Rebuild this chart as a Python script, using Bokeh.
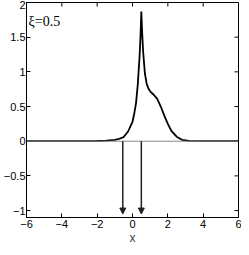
from bokeh.plotting import figure
from bokeh.models import (ColumnDataSource, Arrow, NormalHead, FixedTicker, Range1d, Span)
from bokeh.core.properties import value
from bokeh.embed import file_html
from bokeh.resources import INLINE

# curve data
curve_x = [-6, -3, -2, -1.5, -1, -0.75, -0.5, -0.25, 0, 0.1, 0.2, 0.3, 0.4, 0.45, 0.5,
           0.55, 0.6, 0.7, 0.8, 0.9, 1.0, 1.2, 1.4, 1.6, 1.8, 2.0, 2.2, 2.5, 2.8, 3.2, 4, 6]
curve_y = [0, 0, 0.003, 0.008, 0.02, 0.035, 0.06, 0.14, 0.28, 0.4, 0.55, 0.82, 1.22, 1.5, 1.87,
           1.55, 1.3, 0.98, 0.83, 0.76, 0.72, 0.67, 0.61, 0.5, 0.37, 0.25, 0.15, 0.065, 0.02, 0.004, 0, 0]

arrow_x = [-0.55, 0.5]
arrow_y0 = [0, 0]
arrow_y1 = [-1.05, -1.05]

x_ticks = [-6, -4, -2, 0, 2, 4, 6]
y_ticks = [-1, -0.5, 0, 0.5, 1, 1.5, 2]
label_text = "ξ=0.5"

X0, X1 = -6, 6
Y0, Y1 = -1.1, 2

FONT = "Liberation Sans"

p = figure(frame_width=212, frame_height=215, output_backend="svg", toolbar_location=None,
           x_range=Range1d(X0, X1), y_range=Range1d(Y0, Y1),
           min_border_left=0, min_border_right=3, min_border_top=2, min_border_bottom=0,
           x_axis_label="x")
p.grid.visible = False
p.outline_line_color = "black"
p.outline_line_width = 1
p.background_fill_color = "white"
p.border_fill_color = "white"

def fmt(v):
    return ("%g" % v).replace("-", "\u2212")

for ax in (p.xaxis[0], p.yaxis[0]):
    ax.major_tick_in = 4
    ax.major_tick_out = 0
    ax.minor_tick_in = 0
    ax.minor_tick_out = 0
    ax.axis_line_color = "black"
    ax.major_tick_line_color = "black"
    ax.major_label_text_font = FONT
    ax.major_label_text_font_size = "11px"
    ax.major_label_text_color = "black"
    ax.major_label_standoff = 2

p.yaxis[0].major_label_standoff = 1
p.xaxis[0].ticker = FixedTicker(ticks=x_ticks)
p.yaxis[0].ticker = FixedTicker(ticks=y_ticks)
p.xaxis[0].major_label_overrides = {t: fmt(t) for t in x_ticks}
p.yaxis[0].major_label_overrides = {t: fmt(t) for t in y_ticks}
p.xaxis[0].axis_label_text_font = FONT
p.xaxis[0].axis_label_text_font_size = "12px"
p.xaxis[0].axis_label_text_font_style = "normal"
p.xaxis[0].axis_label_standoff = 0

# top / right inward ticks (box style)
tx = 0.226
ty = 0.058
p.segment(x0=x_ticks, y0=[Y1] * len(x_ticks), x1=x_ticks, y1=[Y1 - ty] * len(x_ticks),
          line_color="black", line_width=1)
p.segment(x0=[X1] * len(y_ticks), y0=y_ticks, x1=[X1 - tx] * len(y_ticks), y1=y_ticks,
          line_color="black", line_width=1)

zero = Span(location=0, dimension="width", line_color="#888888", line_width=1)
p.add_layout(zero)

p.line(curve_x, curve_y, line_color="black", line_width=1.8)

src = ColumnDataSource(dict(x0=arrow_x, y0=arrow_y0, x1=arrow_x, y1=arrow_y1))
p.add_layout(Arrow(source=src, x_start="x0", y_start="y0", x_end="x1", y_end="y1",
                   line_color="#222222", line_width=1.5,
                   end=NormalHead(size=6, fill_color="#222222", line_color="#222222")))

p.text(x=[-5.88], y=[1.72], text=[label_text], text_font=value("Liberation Serif"),
       text_font_size="14px", text_color="black", text_baseline="alphabetic")

open("out.html", "w").write(file_html(p, INLINE))
